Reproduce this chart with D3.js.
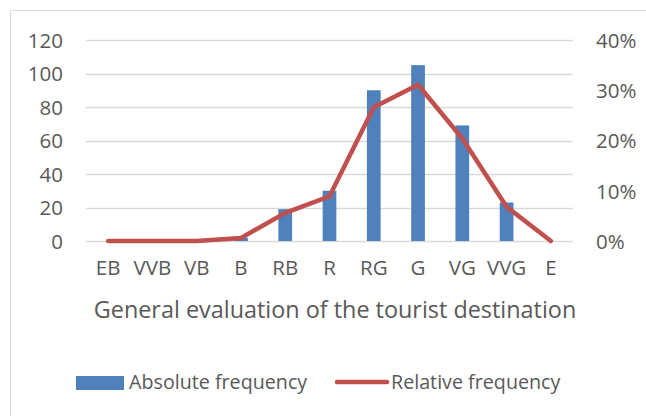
<!DOCTYPE html>
<html>
<head>
<meta charset="utf-8">
<script src="https://cdn.jsdelivr.net/npm/d3@7"></script>
<style>
  body { margin: 0; background: #fff; }
  text { font-family: "Open Sans", "Liberation Sans", sans-serif; fill: #595959; }
</style>
</head>
<body>
<svg id="chart" width="646" height="416"></svg>
<script>
// rating categories, bar counts and line shares
let categories = ["EB", "VVB", "VB", "B", "RB", "R", "RG", "G", "VG", "VVG", "E"];
let absoluteFreq = [0, 0, 0, 2, 19, 30, 90, 105, 69, 23, 0];
let relativeFreq = [0, 0, 0, 0.006, 0.056, 0.089, 0.266, 0.311, 0.204, 0.068, 0];
let leftTicks = [0, 20, 40, 60, 80, 100, 120];
let rightTicks = [0, 0.1, 0.2, 0.3, 0.4];

let svg = d3.select("#chart");
let plot = {left: 86, right: 573, top: 40, bottom: 241};
let tickFont = "20.5px";

// frame of the chart area
svg.append("path")
   .attr("d", "M10.5,700 V10.5 H700")
   .attr("fill", "none")
   .attr("stroke", "#d9d9d9");

let x = d3.scaleBand().domain(categories).range([plot.left, plot.right]);
let yLeft = d3.scaleLinear().domain([0, 120]).range([plot.bottom, plot.top]);
let yRight = d3.scaleLinear().domain([0, 0.4]).range([plot.bottom, plot.top]);

// gridlines
svg.append("g")
   .selectAll("line")
   .data(leftTicks)
   .enter()
   .append("line")
   .attr("x1", plot.left)
   .attr("x2", plot.right)
   .attr("y1", d => Math.round(yLeft(d)) + 0.5)
   .attr("y2", d => Math.round(yLeft(d)) + 0.5)
   .attr("stroke", "#d9d9d9")
   .attr("stroke-width", 1.3);

let leftAxis = svg.append("g")
   .attr("transform", "translate(" + (plot.left - 23) + ",0)")
   .call(d3.axisLeft(yLeft).tickValues(leftTicks).tickSize(0).tickPadding(0));
leftAxis.select(".domain").remove();
leftAxis.attr("font-size", null);
leftAxis.selectAll("text").style("font-size", tickFont).attr("dy", "0.36em");

let rightAxis = svg.append("g")
   .attr("transform", "translate(" + (plot.right + 23) + ",0)")
   .call(d3.axisRight(yRight).tickValues(rightTicks).tickSize(0).tickPadding(0).tickFormat(d3.format(".0%")));
rightAxis.select(".domain").remove();
rightAxis.attr("font-size", null);
rightAxis.selectAll("text").style("font-size", tickFont).attr("dy", "0.36em");

let bottomAxis = svg.append("g")
   .attr("transform", "translate(0," + (plot.bottom + 19) + ")")
   .call(d3.axisBottom(x).tickSize(0).tickPadding(0));
bottomAxis.select(".domain").remove();
bottomAxis.attr("font-size", null);
bottomAxis.selectAll("text").style("font-size", tickFont).attr("dy", "0.71em");

// bars
let barW = x.bandwidth() * 0.31;
svg.append("g")
   .selectAll("rect")
   .data(absoluteFreq)
   .enter()
   .append("rect")
   .attr("x", (d, i) => x(categories[i]) + x.bandwidth() / 2 - barW / 2)
   .attr("y", d => yLeft(d))
   .attr("width", barW)
   .attr("height", d => plot.bottom - yLeft(d))
   .attr("fill", "#4f81bd");

// line
let line = d3.line()
   .x((d, i) => x(categories[i]) + x.bandwidth() / 2)
   .y(d => yRight(d));
svg.append("path")
   .datum(relativeFreq)
   .attr("d", line)
   .attr("fill", "none")
   .attr("stroke", "#c0504d")
   .attr("stroke-width", 4.5)
   .attr("stroke-linejoin", "round")
   .attr("stroke-linecap", "round");

// axis title
svg.append("text")
   .attr("x", 335)
   .attr("y", 318)
   .attr("text-anchor", "middle")
   .style("font-size", "23.4px")
   .text("General evaluation of the tourist destination");

// legend
let legend = svg.append("g");
legend.append("rect")
   .attr("x", 76).attr("y", 376).attr("width", 48).attr("height", 14)
   .attr("fill", "#4f81bd");
legend.append("text")
   .attr("x", 129).attr("y", 389)
   .style("font-size", "19.7px")
   .text("Absolute frequency");
legend.append("line")
   .attr("x1", 337).attr("x2", 387).attr("y1", 382).attr("y2", 382)
   .attr("stroke", "#c0504d").attr("stroke-width", 4.5)
   .attr("stroke-linecap", "round");
legend.append("text")
   .attr("x", 391).attr("y", 389)
   .style("font-size", "19.7px")
   .text("Relative frequency");
</script>
</body>
</html>
